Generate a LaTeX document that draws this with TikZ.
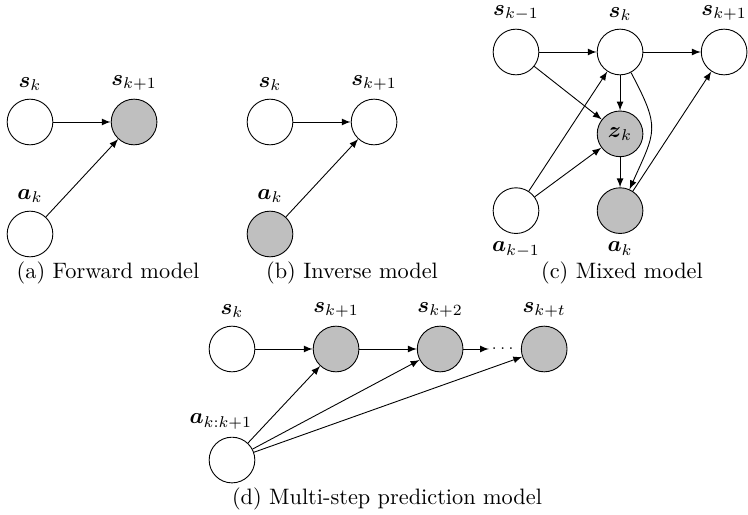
\documentclass[tikz,border=0pt]{standalone}
\usepackage{amsmath}
\usepackage{amssymb}

\begin{document}
\begin{tikzpicture}[x=0.4484pt, y=0.4484pt, >=latex, node distance=16.4mm, var/.style={circle, draw, minimum size=7.2mm, inner sep=0pt}, pred/.style={var, fill=gray!50}]

  \useasboundingbox (0,0) rectangle (748,-515);

  % (a) forward
  \node[var, label=above:$\boldsymbol{s}_k$] (sA) at (30,-122) {};
  \node[pred, right of=sA, label=above:$\boldsymbol{s}_{k+1}$] (sA1) {};
  \node[var, below of=sA, node distance=17.65mm, label=above:$\boldsymbol{a}_k$] (aA) {};
  \node (capA) at (108,-273) {(a) Forward model};
  \draw[->] (sA) -- (sA1);
  \draw[->] (aA) -- (sA1);

  % (b) inverse
  \node[var, label=above:$\boldsymbol{s}_k$] (sB) at (270,-122) {};
  \node[var, right of=sB, label=above:$\boldsymbol{s}_{k+1}$] (sB1) {};
  \node[pred, below of=sB, node distance=17.65mm, label=above:$\boldsymbol{a}_k$] (aB) {};
  \node (capB) at (352,-273) {(b) Inverse model};
  \draw[->] (sB) -- (sB1);
  \draw[->] (aB) -- (sB1);

  % (c) mixed
  \node[var, label=above:$\boldsymbol{s}_{k-1}$] (sC0) at (516,-52) {};
  \node[var, right of=sC0, label=above:$\boldsymbol{s}_k$] (sC) {};
  \node[var, right of=sC, label=above:$\boldsymbol{s}_{k+1}$] (sC1) {};
  \node[pred, below of=sC, node distance=12.9mm] (zC) {$\boldsymbol{z}_k$};
  \node[pred, below of=zC, node distance=12.1mm, label=below:$\boldsymbol{a}_k$] (aC) {};
  \node[var, left of=aC, label=below:$\boldsymbol{a}_{k-1}$] (aC0) {};
  \node (capC) at (622,-273) {(c) Mixed model};
  \draw[->] (sC0) -- (sC);
  \draw[->] (sC) -- (sC1);
  \draw[->] (sC0) -- (zC);
  \draw[->] (sC) -- (zC);
  \draw[->] (aC0) -- (sC);
  \draw[->] (aC0) -- (zC);
  \draw[->] (zC) -- (aC);
  \draw[->] (sC) to[out=-62, in=66, looseness=1.4] (aC);
  \draw[->] (aC) -- (sC1);

  % (d) multi-step
  \node[var, label=above:$\boldsymbol{s}_k$] (sD) at (232,-349) {};
  \node[pred, right of=sD, label=above:$\boldsymbol{s}_{k+1}$] (sD1) {};
  \node[pred, right of=sD1, label=above:$\boldsymbol{s}_{k+2}$] (sD2) {};
  \node[right of=sD2, node distance=10.1mm, inner sep=1pt, font=\scriptsize] (dots) {$\cdots$};
  \node[pred, right of=sD2, label=above:$\boldsymbol{s}_{k+t}$] (sDt) {};
  \node[var, below of=sD, node distance=17.5mm, label={[xshift=-5pt]above:$\boldsymbol{a}_{k:k+1}$}] (aD) {};
  \node (capD) at (387,-499) {(d) Multi-step prediction model};
  \draw[->] (sD) -- (sD1);
  \draw[->] (sD1) -- (sD2);
  \draw[->] (sD2) -- (dots);
  \draw[->] (aD) -- (sD1);
  \draw[->] (aD) -- (sD2);
  \draw[->] (aD) -- (sDt);
\end{tikzpicture}
\end{document}
